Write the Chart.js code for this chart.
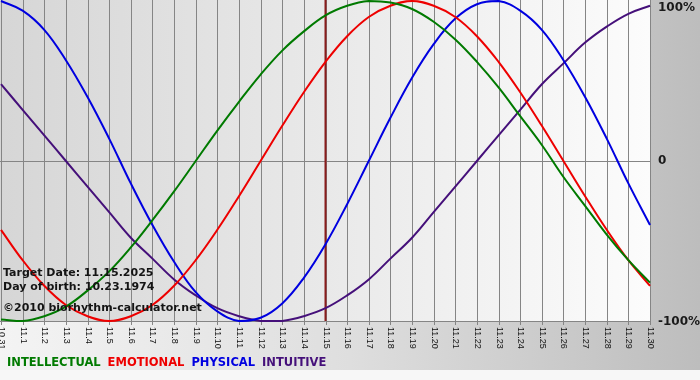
<!DOCTYPE html>
<html>
<head>
<meta charset="utf-8">
<script src="https://cdn.jsdelivr.net/npm/chart.js@4.4.1/dist/chart.umd.min.js"></script>
<style>
html,body{margin:0;padding:0;background:#f7f7f7;}
#wrap{width:700px;height:380px;position:relative;}
canvas{display:block;}
</style>
</head>
<body>
<div id="wrap"><canvas id="c" width="700" height="380"></canvas></div>
<script>
// ---- data ----
const dates = ['10.31','11.1','11.2','11.3','11.4','11.5','11.6','11.7','11.8','11.9','11.10','11.11','11.12','11.13','11.14','11.15','11.16','11.17','11.18','11.19','11.20','11.21','11.22','11.23','11.24','11.25','11.26','11.27','11.28','11.29','11.30'];
const intellectual = [-99,-100,-97,-91,-81,-69,-54,-37,-19,0,19,37,54,69,81,91,97,100,99,95,87,76,62,46,28,10,-10,-28,-46,-62,-76];
const emotional = [-43,-62,-78,-90,-97,-100,-97,-90,-78,-62,-43,-22,0,22,43,62,78,90,97,100,97,90,78,62,43,22,0,-22,-43,-62,-78];
const physical = [100,94,82,63,40,14,-14,-40,-63,-82,-94,-100,-98,-89,-73,-52,-27,0,27,52,73,89,98,100,94,82,63,40,14,-14,-40];
const intuitive = [48,32,16,0,-16,-32,-48,-61,-74,-84,-92,-97,-100,-100,-97,-92,-84,-74,-61,-48,-32,-16,0,16,32,48,61,74,84,92,97];
const seriesNames = ['INTELLECTUAL','EMOTIONAL','PHYSICAL','INTUITIVE'];
const seriesColors = ['#007a00','#ee0000','#0000e0','#45107a'];
const yTickValues = [100, 0, -100];
const yTickLabels = ['100%', '0', '-100%'];
const targetDate = '11.15';
const infoLines = ['Target Date: 11.15.2025', 'Day of birth: 10.23.1974', '\u00A92010 biorhythm-calculator.net'];

const seriesData = [intellectual, emotional, physical, intuitive];

const decor = {
  id: 'decor',
  beforeDraw(chart) {
    const ctx = chart.ctx, a = chart.chartArea, W = chart.width, H = chart.height;
    const xs = chart.scales.x, ys = chart.scales.y;
    ctx.save();
    ctx.fillStyle = '#f7f7f7';
    ctx.fillRect(0, 0, W, H);
    let g = ctx.createLinearGradient(0, 0, W, 0);
    g.addColorStop(0, '#f4f4f4');
    g.addColorStop(0.5, '#dedede');
    g.addColorStop(1, '#bdbdbd');
    ctx.fillStyle = g;
    ctx.fillRect(0, 0, W, 370);
    g = ctx.createLinearGradient(a.left, 0, a.right, 0);
    g.addColorStop(0, '#d6d6d6');
    g.addColorStop(1, '#fcfcfc');
    ctx.fillStyle = g;
    ctx.fillRect(0, 0, a.right, a.bottom);
    ctx.strokeStyle = '#858585';
    ctx.lineWidth = 1;
    dates.forEach((d, i) => {
      const x = Math.round(xs.getPixelForValue(i)) + 0.5;
      ctx.beginPath();
      ctx.moveTo(x, 0);
      ctx.lineTo(x, a.bottom + 4);
      ctx.stroke();
    });
    [0, -100].forEach(v => {
      const y = Math.round(ys.getPixelForValue(v)) + 0.5;
      ctx.beginPath();
      ctx.moveTo(0, y);
      ctx.lineTo(a.right + 1, y);
      ctx.stroke();
    });
    ctx.restore();
  },
  beforeDatasetsDraw(chart) {
    const ctx = chart.ctx, a = chart.chartArea, xs = chart.scales.x;
    const x = xs.getPixelForValue(dates.indexOf(targetDate));
    ctx.save();
    ctx.strokeStyle = '#8a1c1c';
    ctx.lineWidth = 2;
    ctx.beginPath();
    ctx.moveTo(x, 0);
    ctx.lineTo(x, a.bottom);
    ctx.stroke();
    ctx.restore();
  },
  afterDatasetsDraw(chart) {
    const ctx = chart.ctx, a = chart.chartArea, xs = chart.scales.x, ys = chart.scales.y;
    ctx.save();
    ctx.fillStyle = '#1a1a1a';
    ctx.font = 'bold 12px "DejaVu Sans"';
    ctx.textAlign = 'left';
    ctx.textBaseline = 'middle';
    yTickValues.forEach((v, i) => {
      let y = ys.getPixelForValue(v);
      y = Math.max(y, a.top + 6.5) + (v < 0 ? 1 : 0);
      ctx.fillText(yTickLabels[i], a.right + 8, y);
    });
    ctx.font = '9px "Liberation Sans"';
    ctx.fillStyle = '#111';
    dates.forEach((d, i) => {
      const x = xs.getPixelForValue(i);
      ctx.save();
      ctx.translate(x + 0.5, a.bottom + 6);
      ctx.rotate(Math.PI / 2);
      ctx.textAlign = 'left';
      ctx.textBaseline = 'middle';
      ctx.fillText(d, 0, 0);
      ctx.restore();
    });
    ctx.font = 'bold 11px "DejaVu Sans"';
    ctx.fillStyle = '#141414';
    ctx.textBaseline = 'alphabetic';
    const infoY = [276, 290, 311];
    infoLines.forEach((t, i) => ctx.fillText(t, 3, infoY[i]));
    ctx.font = 'bold 11.5px "DejaVu Sans"';
    let lx = 7;
    seriesNames.forEach((n, i) => {
      ctx.fillStyle = seriesColors[i];
      ctx.fillText(n, lx, 366);
      lx += ctx.measureText(n).width + 7;
    });
    ctx.restore();
  }
};

new Chart(document.getElementById('c'), {
  type: 'line',
  data: {
    labels: dates,
    datasets: seriesNames.map((n, i) => ({
      label: n,
      data: seriesData[i],
      borderColor: seriesColors[i],
      borderWidth: 2,
      pointRadius: 0,
      tension: 0.4,
      fill: false,
      clip: 5
    }))
  },
  options: {
    responsive: false,
    animation: false,
    devicePixelRatio: 1,
    layout: { padding: { left: 1, right: 50, top: 1, bottom: 59 } },
    plugins: { legend: { display: false }, tooltip: { enabled: false } },
    scales: {
      x: { display: false, offset: false },
      y: { display: false, min: -100, max: 100 }
    }
  },
  plugins: [decor]
});
</script>
</body>
</html>
